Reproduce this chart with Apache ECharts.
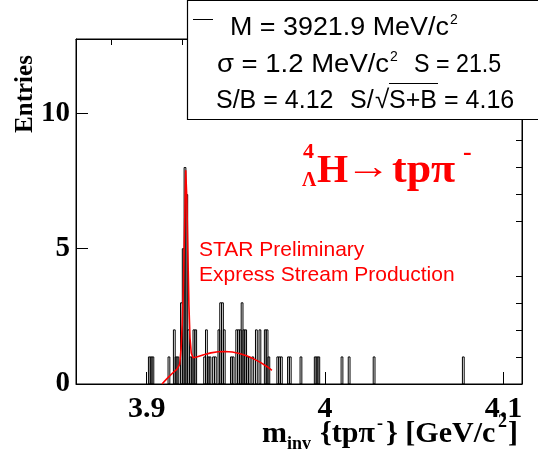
<!DOCTYPE html>
<html>
<head>
<meta charset="utf-8">
<script src="https://cdn.jsdelivr.net/npm/echarts@6/dist/echarts.min.js"></script>
<style>
  html, body { margin: 0; padding: 0; background: #fff; }
  #chart { width: 538px; height: 455px; }
</style>
</head>
<body>
<div id="chart"></div>
<script>
// Invariant-mass histogram, 1 MeV bins: lower edge of each filled bin (MeV) and its entries
const binLowMeV = [3901, 3902, 3903, 3912, 3915, 3916, 3917, 3919, 3920, 3921,
                   3922, 3923, 3924, 3925, 3926, 3927, 3932, 3933, 3934, 3935,
                   3937, 3938, 3940, 3941, 3942, 3943, 3947, 3948, 3950, 3951,
                   3952, 3953, 3954, 3955, 3956, 3957, 3959, 3961, 3963, 3966,
                   3967, 3968, 3973, 3974, 3975, 3979, 3980, 3986, 3994, 3995,
                   3996, 4009, 4013, 4027, 4077];
const entries   = [1, 1, 1, 1, 2, 1, 1, 3, 5, 8,
                   7, 2, 1, 1, 2, 2, 1, 2, 1, 1,
                   1, 1, 2, 3, 3, 2, 1, 1, 2, 2,
                   2, 3, 2, 2, 1, 1, 1, 2, 2, 2,
                   2, 1, 1, 1, 1, 1, 1, 1, 1, 1,
                   1, 1, 1, 1, 1];
const binWidthMeV = 1;

// Fitted signal + background curve (mass in MeV, entries per bin)
const fitMassMeV = [3908.6, 3911, 3914, 3917, 3918.5, 3919.3, 3920, 3920.6, 3921.2, 3921.9,
                    3922.5, 3923.1, 3923.7, 3924.3, 3925, 3926, 3928, 3932, 3936, 3940,
                    3944, 3948, 3952, 3956, 3960, 3964, 3968, 3970.2];
const fitValue   = [0, 0.17, 0.37, 0.55, 0.72, 1.3, 2.3, 3.6, 5.6, 7.9,
                    6.9, 4.9, 2.9, 1.7, 1.15, 0.97, 1.0, 1.08, 1.15, 1.19,
                    1.2, 1.18, 1.13, 1.04, 0.93, 0.79, 0.62, 0.5];

// Axis ticks
const xMajorTicks = [3.9, 4.0, 4.1];
const xMinorTicks = [3.88, 3.92, 3.94, 3.96, 3.98, 4.02, 4.04, 4.06, 4.08];
const yMajorTicks = [0, 5, 10];
const yMinorTicks = [1, 2, 3, 4, 6, 7, 8, 9, 11, 12];
const xRange = [3.8604, 4.1104];
const yRange = [0, 12.75];

// Fit results shown in the stats box
const fitMass = '3921.9';
const fitSigma = '1.2';
const fitSignal = '21.5';
const fitSB = '4.12';
const fitSignif = '4.16';

const histData = binLowMeV.map((lo, i) => [lo / 1000, (lo + binWidthMeV) / 1000, entries[i]]);
const fitData = fitMassMeV.map((m, i) => [m / 1000, fitValue[i]]);

const serif = '"Liberation Serif", "Times New Roman", serif';
const sans = '"Liberation Sans", Arial, Helvetica, sans-serif';

const chart = echarts.init(document.getElementById('chart'), null, { renderer: 'canvas' });

const gridPos = { left: 76, top: 39, width: 446, height: 345 };

function xAxisDef(ticks, len, labels) {
  return {
    type: 'value', min: xRange[0], max: xRange[1], gridIndex: 0,
    axisLine: { show: true, onZero: false, lineStyle: { color: '#000', width: 1 } },
    axisTick: { show: true, inside: true, length: len, customValues: ticks, lineStyle: { color: '#000', width: 1 } },
    axisLabel: labels ? {
      show: true, customValues: ticks, margin: 10,
      fontFamily: serif, fontWeight: 'bold', fontSize: 30, color: '#000',
      formatter: v => (Math.abs(v - 4) < 1e-9 ? '4' : String(+v.toFixed(2)))
    } : { show: false },
    splitLine: { show: false }
  };
}
function yAxisDef(ticks, len, labels) {
  return {
    type: 'value', min: yRange[0], max: yRange[1], gridIndex: 0,
    axisLine: { show: true, lineStyle: { color: '#000', width: 1 } },
    axisTick: { show: true, inside: true, length: len, customValues: ticks, lineStyle: { color: '#000', width: 1 } },
    axisLabel: labels ? {
      show: true, customValues: ticks, margin: 6,
      fontFamily: serif, fontWeight: 'bold', fontSize: 29, color: '#000'
    } : { show: false },
    splitLine: { show: false }
  };
}

// text piece placed by its baseline (x = left edge)
function txt(x, baseline, text, size, family, opts) {
  opts = opts || {};
  const weight = opts.bold ? 'bold ' : '';
  return {
    type: 'text', x: x, y: baseline - 0.68 * size, z: 11,
    scaleX: opts.sx || 1,
    style: { text: text, font: weight + size + 'px ' + family, fill: opts.color || '#000' }
  };
}

const red = '#ff0000';

const option = {
  animation: false,
  backgroundColor: '#fff',
  grid: Object.assign({ show: true, borderColor: '#000', borderWidth: 1, backgroundColor: 'transparent', containLabel: false }, gridPos),
  xAxis: [xAxisDef(xMajorTicks, 12, true), xAxisDef(xMinorTicks, 6, false)],
  yAxis: [yAxisDef(yMajorTicks, 12, true), yAxisDef(yMinorTicks, 6, false)],
  series: [
    {
      type: 'custom',
      xAxisIndex: 0, yAxisIndex: 0,
      data: histData,
      clip: true,
      renderItem: function (params, api) {
        const p0 = api.coord([api.value(0), api.value(2)]);
        const p1 = api.coord([api.value(1), 0]);
        return {
          type: 'rect',
          shape: { x: p0[0], y: p0[1], width: p1[0] - p0[0], height: p1[1] - p0[1] },
          style: { fill: 'none', stroke: '#000', lineWidth: 1 }
        };
      },
      z: 2
    },
    {
      type: 'line',
      xAxisIndex: 0, yAxisIndex: 0,
      data: fitData,
      symbol: 'none',
      smooth: false,
      lineStyle: { color: red, width: 1.6 },
      z: 3
    }
  ],
  graphic: [
    // stats box
    { type: 'rect', shape: { x: 187.5, y: 0.5, width: 400, height: 119 },
      style: { fill: '#fff', stroke: '#000', lineWidth: 1.2 }, z: 10 },
    { type: 'line', shape: { x1: 193, y1: 19.5, x2: 213, y2: 19.5 }, style: { stroke: '#000', lineWidth: 1 }, z: 11 },
    txt(230, 33, 'M = ' + fitMass + ' MeV/c', 25, sans, { sx: 1.075 }),
    txt(450, 23, '2', 14, sans),
    txt(217, 70, '\u03c3 = ' + fitSigma + ' MeV/c', 25, sans, { sx: 1.1 }),
    txt(390, 60, '2', 14, sans),
    txt(414, 70, 'S = ' + fitSignal, 25, sans, { sx: 0.93 }),
    txt(216, 106, 'S/B = ' + fitSB, 25, sans),
    txt(350, 106, 'S/', 25, sans),
    txt(375, 106, '\u221a', 26, sans),
    { type: 'line', shape: { x1: 389, y1: 83.5, x2: 438, y2: 83.5 }, style: { stroke: '#000', lineWidth: 1 }, z: 11 },
    txt(389, 106, 'S+B', 25, sans),
    txt(444, 106, '= ' + fitSignif, 25, sans),
    // decay channel label
    txt(303, 156, '4', 22, serif, { bold: true, color: red }),
    txt(302, 184, '\u039b', 20, serif, { bold: true, color: red }),
    txt(317, 179, 'H', 40, serif, { bold: true, color: red }),
    txt(346, 175, '\u2192', 36, sans, { bold: true, color: red, sx: 1.25 }),
    txt(392, 179, 'tp\u03c0', 40, serif, { bold: true, color: red, sx: 1.1 }),
    txt(463, 158, '-', 26, serif, { bold: true, color: red }),
    // preliminary tag
    txt(199, 254, 'STAR Preliminary', 21, sans, { color: red }),
    txt(199, 279, 'Express Stream Production', 21, sans, { color: red }),
    // x axis title
    txt(262, 440, 'm', 30, serif, { bold: true }),
    txt(287, 448, 'inv', 18, serif, { bold: true }),
    txt(320, 440, '{tp\u03c0', 30, serif, { bold: true }),
    txt(377, 428, '-', 18, serif, { bold: true }),
    txt(386, 440, '} [GeV/c', 30, serif, { bold: true }),
    txt(498, 426, '2', 18, serif, { bold: true }),
    txt(508, 440, ']', 30, serif, { bold: true }),
    // y axis title
    { type: 'text', x: 26, y: 94, rotation: Math.PI / 2, z: 5,
      style: { text: 'Entries', font: 'bold 25px ' + serif, fill: '#000', align: 'center', verticalAlign: 'middle' } }
  ]
};

chart.setOption(option);
</script>
</body>
</html>
